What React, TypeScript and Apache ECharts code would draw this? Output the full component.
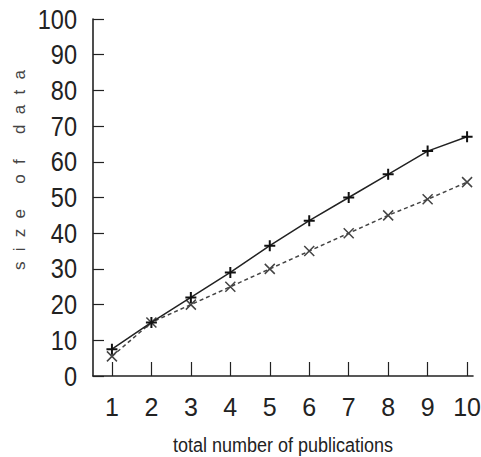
import React, { useEffect, useRef } from "react";
import * as echarts from "echarts";

const xValues = [1, 2, 3, 4, 5, 6, 7, 8, 9, 10];
const solidSeries = [7.5, 15, 22, 29, 36.5, 43.5, 50, 56.5, 63, 67];
const dashedSeries = [5.5, 15, 20, 25, 30, 35, 40, 45, 49.5, 54.3];
const yTitle = "size of data";
const xTitle = "total number of publications";

const narrow = "'Liberation Sans Narrow', 'Arial Narrow', 'Liberation Sans', sans-serif";

export default function App() {
  const ref = useRef<HTMLDivElement>(null);
  useEffect(() => {
    document.body.style.margin = "0";
    const chart = echarts.init(ref.current!, null, { renderer: "svg" });
    chart.setOption({
      animation: false,
      backgroundColor: "#ffffff",
      grid: { left: 93, top: 19, right: 8, bottom: 81, containLabel: false, outerBoundsMode: "none" },
      xAxis: {
        type: "value",
        min: 0.52,
        max: 10.15,
        splitLine: { show: false },
        axisLine: { show: true, onZero: false, lineStyle: { color: "#222", width: 1.6 } },
        axisTick: {
          show: true,
          inside: true,
          length: 14,
          customValues: xValues,
          lineStyle: { color: "#222", width: 1.2 },
        },
        axisLabel: {
          customValues: xValues,
          margin: 18,
          fontFamily: narrow,
          fontSize: 25,
          color: "#222",
        },
        name: xTitle,
        nameLocation: "middle",
        nameGap: 59,
        nameTextStyle: { fontFamily: narrow, fontSize: 20, color: "#222" },
      },
      yAxis: {
        type: "value",
        min: 0,
        max: 100,
        interval: 10,
        splitLine: { show: false },
        axisLine: { show: true, lineStyle: { color: "#222", width: 1.6 } },
        axisTick: { show: true, inside: true, length: 11, lineStyle: { color: "#222", width: 1.2 } },
        axisLabel: {
          margin: 16,
          fontFamily: narrow,
          fontSize: 28,
          color: "#222",
          showMinLabel: true,
          showMaxLabel: true,
        },
      },
      graphic: [
        {
          type: "text",
          x: 19,
          y: 170,
          rotation: Math.PI / 2,
          style: {
            text: yTitle,
            fontFamily: "'Liberation Sans', Arial, sans-serif",
            fontSize: 17,
            fill: "#444",
            align: "center",
            verticalAlign: "middle",
          },
        },
      ],
      series: [
        {
          type: "line",
          data: xValues.map((x, i) => [x, solidSeries[i]]),
          symbol: "path://M5,0L5,10M0,5L10,5",
          symbolSize: 11,
          lineStyle: { color: "#222", width: 1.5, type: "solid" },
          itemStyle: { color: "transparent", borderColor: "#111", borderWidth: 2 },
          z: 3,
        },
        {
          type: "line",
          data: xValues.map((x, i) => [x, dashedSeries[i]]),
          symbol: "path://M0,0L10,10M10,0L0,10",
          symbolSize: 10,
          lineStyle: { color: "#444", width: 1.5, type: [4, 3] },
          itemStyle: { color: "transparent", borderColor: "#444", borderWidth: 1.5 },
          z: 2,
        },
      ],
    });
    const texts = ref.current!.querySelectorAll("text");
    texts.forEach((t) => {
      const content = t.textContent || "";
      if (content === yTitle) {
        t.setAttribute("textLength", "200");
        t.setAttribute("lengthAdjust", "spacing");
      } else if (content === xTitle) {
        t.setAttribute("textLength", "220");
        t.setAttribute("lengthAdjust", "spacingAndGlyphs");
      } else if (/^\d+$/.test(content) && Number(content) % 10 === 0 && Number(content) !== 10 || content === "0" || (content === "10" && t.getAttribute("text-anchor") === "end")) {
        const len = (t as SVGTextElement).getComputedTextLength();
        if (len > 0) {
          t.setAttribute("textLength", String(len * 0.84));
          t.setAttribute("lengthAdjust", "spacingAndGlyphs");
        }
      }
    });
    return () => chart.dispose();
  }, []);
  return <div ref={ref} style={{ width: 481, height: 457 }} />;
}
